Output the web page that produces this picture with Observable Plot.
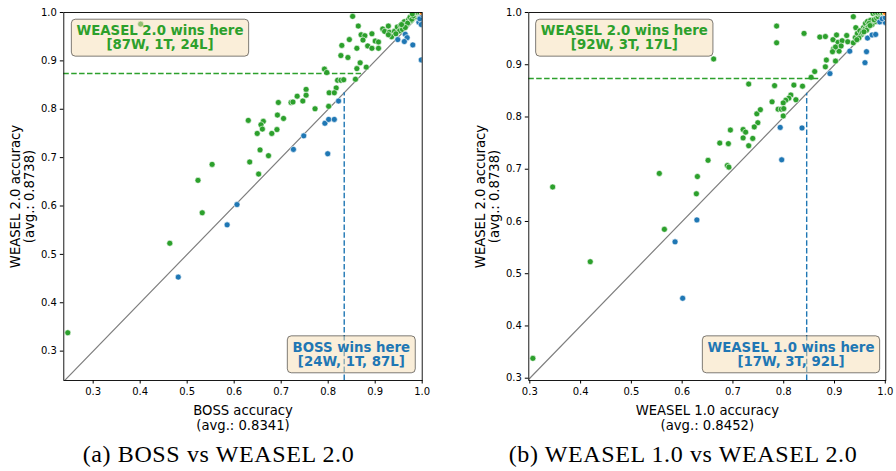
<!DOCTYPE html>
<html>
<head>
<meta charset="utf-8">
<script src="https://cdn.jsdelivr.net/npm/d3@7"></script>
<script src="https://cdn.jsdelivr.net/npm/@observablehq/plot@0.6"></script>
<style>
  body { margin: 0; background: #fff; width: 896px; height: 471px; overflow: hidden; }
  #row { display: flex; }
  .panel { width: 448px; }
  .caption {
    font-family: "Liberation Serif", serif; font-size: 24px; letter-spacing: 0.62px;
    text-align: center; height: 41px; line-height: 49px; white-space: nowrap; position: relative;
  }
</style>
</head>
<body>
<div id="row">
  <div class="panel" id="panel-a"></div>
  <div class="panel" id="panel-b"></div>
</div>
<script>
// Per-dataset accuracies: [BOSS, WEASEL 2.0]
const bossVsWeasel2 = [
  [0.852,0.992],[0.401,0.976],[0.864,0.972],[0.916,0.966],[0.928,0.972],[0.845,0.944],[0.870,0.954],[0.878,0.952],[0.893,0.956],[0.874,0.943],
  [0.900,0.941],[0.907,0.939],[0.829,0.932],[0.861,0.926],[0.884,0.931],[0.893,0.926],[0.907,0.926],[0.827,0.911],[0.842,0.907],[0.868,0.896],
  [0.861,0.884],[0.881,0.887],[0.792,0.883],[0.797,0.876],[0.820,0.860],[0.827,0.860],[0.833,0.861],[0.858,0.862],[0.817,0.844],[0.802,0.834],
  [0.813,0.834],[0.801,0.806],[0.753,0.841],[0.753,0.829],[0.734,0.827],[0.746,0.817],[0.721,0.814],[0.725,0.815],[0.694,0.814],[0.692,0.788],
  [0.705,0.781],[0.772,0.801],[0.630,0.777],[0.662,0.775],[0.657,0.768],[0.660,0.759],[0.649,0.750],[0.680,0.750],[0.691,0.758],[0.655,0.716],
  [0.633,0.691],[0.673,0.704],[0.652,0.666],[0.553,0.686],[0.523,0.653],[0.532,0.586],[0.463,0.523],[0.246,0.338],
  [0.920,0.961],[0.930,0.959],[0.941,0.961],[0.935,0.950],[0.947,0.970],[0.954,0.973],[0.962,0.981],[0.966,0.974],[0.971,0.985],[0.976,0.983],
  [0.987,0.991],[0.984,0.995],[0.990,0.997],[0.993,0.998],[0.952,0.962],[0.928,0.954],[0.958,0.965],[0.969,0.978],[0.974,0.990],[0.978,0.986],
  [0.981,0.993],[0.985,1.000],[0.988,1.000],[0.991,1.000],[0.995,1.000],[0.979,0.997],[0.964,0.969],[0.944,0.956],[0.956,0.975],
  [0.948,0.944],[0.964,0.955],[0.968,0.948],[0.962,0.940],[0.980,0.933],[0.998,0.902],[0.993,0.980],[0.998,0.986],[0.822,0.817],[0.793,0.771],
  [0.801,0.779],[0.813,0.779],[0.799,0.708],[0.748,0.745],[0.726,0.717],[0.606,0.603],[0.585,0.561],[0.481,0.453],[1.000,0.984],[1.000,0.992],
  [0.997,0.990],[0.995,0.987],[1.000,0.996],[0.998,0.975],
  [1.000,1.000]
];

// Per-dataset accuracies: [WEASEL 1.0, WEASEL 2.0]
const weasel1VsWeasel2 = [
  [0.786,0.974],[0.786,0.942],[0.662,0.911],[0.840,0.960],[0.871,0.953],[0.882,0.954],[0.897,0.948],[0.904,0.957],[0.907,0.943],[0.898,0.930],
  [0.909,0.926],[0.902,0.934],[0.915,0.946],[0.924,0.956],[0.926,0.944],[0.937,0.942],[0.941,0.952],[0.937,0.992],[0.942,0.971],[0.957,0.971],
  [0.961,0.979],[0.965,0.983],[0.960,0.968],[0.966,0.972],[0.971,0.985],[0.974,0.977],[0.981,0.983],[0.976,0.998],[0.984,0.995],[0.991,0.993],
  [0.884,0.909],[0.902,0.907],[0.882,0.896],[0.861,0.887],[0.854,0.876],[0.731,0.863],[0.782,0.860],[0.820,0.861],[0.837,0.859],[0.814,0.842],
  [0.810,0.836],[0.824,0.833],[0.804,0.832],[0.799,0.827],[0.777,0.829],[0.789,0.815],[0.795,0.815],[0.800,0.816],[0.799,0.802],[0.747,0.806],
  [0.754,0.814],[0.749,0.789],[0.742,0.781],[0.739,0.759],[0.731,0.745],[0.720,0.776],[0.725,0.771],[0.720,0.760],[0.695,0.775],[0.674,0.750],
  [0.691,0.749],[0.651,0.717],[0.689,0.707],[0.692,0.704],[0.555,0.692],[0.630,0.686],[0.628,0.653],[0.565,0.585],[0.345,0.666],[0.419,0.523],
  [0.306,0.338],[0.896,0.925],[0.913,0.936],
  [0.945,0.960],[0.950,0.965],[0.953,0.958],[0.948,0.951],[0.955,0.962],[0.963,0.966],[0.968,0.979],[0.970,0.975],[0.978,0.986],[0.983,0.989],
  [0.986,0.992],[0.988,0.997],[0.980,1.000],[0.985,1.000],[0.990,1.000],[0.994,1.000],[0.996,0.999],[0.958,0.963],[0.944,0.948],
  [0.930,0.926],[0.891,0.883],[0.963,0.925],[0.960,0.904],[0.965,0.951],[0.974,0.957],[0.981,0.958],[0.989,0.982],[1.000,0.981],[0.836,0.779],
  [0.793,0.780],[0.796,0.718],[0.629,0.603],[0.586,0.561],[0.601,0.453],[0.994,0.988],[1.000,0.990],
  [1.000,1.000],[1.000,1.000],[1.000,1.000]
];

// Mean accuracies over all datasets
const avgBoss = 0.8341;
const avgWeasel1 = 0.8452;
const avgWeasel2 = 0.8738;

// Axis ticks and limits
const tickValues = [0.3, 0.4, 0.5, 0.6, 0.7, 0.8, 0.9, 1.0];
const xLimitsA = [0.2375, 1.0];
const yLimitsA = [0.2393, 1.0];
const xLimitsB = [0.298, 1.001];
const yLimitsB = [0.2956, 1.0];

// Win / tie / loss of the y-axis method against the x-axis method
const outcomes = ["win", "tie", "loss"];
const outcomeColors = ["#2ca02c", "#ff7f0e", "#1f77b4"];

// Box texts and captions
const winsTextA = ["WEASEL 2.0 wins here\n[87W, 1T, 24L]", "BOSS wins here\n[24W, 1T, 87L]"];
const winsTextB = ["WEASEL 2.0 wins here\n[92W, 3T, 17L]", "WEASEL 1.0 wins here\n[17W, 3T, 92L]"];
const captions = ["(a) BOSS vs WEASEL 2.0", "(b) WEASEL 1.0 vs WEASEL 2.0"];

const green = outcomeColors[0], blue = outcomeColors[2];
const outcome = ([x, y]) => (y > x ? "win" : y < x ? "loss" : "tie");
const dash = "5.5,2.4";

function scatterPanel({pairs, xName, yName, xAvg, yAvg, xDomain, yDomain, marginLeft, marginRight, texts, topDx, bottomDx}) {
  const lo = Math.max(xDomain[0], yDomain[0]);
  const axis = {ticks: tickValues, tickFormat: ".1f", tickSize: 3.5, tickPadding: 3.5, label: null};
  return Plot.plot({
    width: 448, height: 430,
    marginTop: 12, marginBottom: 50, marginLeft, marginRight,
    style: {fontFamily: "DejaVu Sans", fontSize: "10px", color: "black", background: "white", overflow: "visible"},
    x: {domain: xDomain, ...axis},
    y: {domain: yDomain, ...axis},
    color: {domain: outcomes, range: outcomeColors},
    marks: [
      Plot.line([lo, 1], {x: d => d, y: d => d, stroke: "#808080", strokeWidth: 1.2, clip: true}),
      Plot.dot(pairs, {x: d => d[0], y: d => d[1], fill: outcome, r: 3, stroke: "white", strokeWidth: 0.6, clip: true}),
      Plot.ruleY([yAvg], {y: d => d, x1: () => xDomain[0], x2: d => d, stroke: green, strokeWidth: 1.4, strokeDasharray: dash}),
      Plot.ruleX([xAvg], {x: d => d, y1: () => yDomain[0], y2: d => d, stroke: blue, strokeWidth: 1.4, strokeDasharray: dash}),
      Plot.frame({stroke: "black", strokeWidth: 0.9}),
      Plot.text([texts[0]], {text: d => d, frameAnchor: "top-left", dx: topDx, dy: 12.3, lineAnchor: "top", textAnchor: "middle",
        fill: green, fontWeight: "bold", fontSize: 13.3, lineHeight: 1.08}),
      Plot.text([texts[1]], {text: d => d, frameAnchor: "bottom-right", dx: bottomDx, dy: -14.5, lineAnchor: "bottom", textAnchor: "middle",
        fill: blue, fontWeight: "bold", fontSize: 13.3, lineHeight: 1.08}),
      Plot.text([`${xName} accuracy\n(avg.: ${xAvg.toFixed(4)})`], {text: d => d, frameAnchor: "bottom", dy: 23.4,
        lineAnchor: "top", textAnchor: "middle", fontSize: 13.2, lineHeight: 1.14}),
      Plot.text([`${yName} accuracy\n(avg.: ${yAvg.toFixed(4)})`], {text: d => d, frameAnchor: "left", dx: -41.3, rotate: -90,
        lineAnchor: "middle", textAnchor: "middle", fontSize: 13.2, lineHeight: 1.08})
    ]
  });
}

// Draw a rounded, half-transparent wheat box behind each "wins here" annotation
function addBoxes(svg) {
  const ns = "http://www.w3.org/2000/svg";
  for (const t of svg.querySelectorAll("text")) {
    if (!t.textContent.includes("wins here")) continue;
    const bb = t.getBBox();
    const r = document.createElementNS(ns, "rect");
    r.setAttribute("x", bb.x - 5.2);
    r.setAttribute("y", bb.y - 3.8);
    r.setAttribute("width", bb.width + 10.4);
    r.setAttribute("height", bb.height + 7.6);
    r.setAttribute("rx", 4);
    r.setAttribute("fill", "wheat");
    r.setAttribute("fill-opacity", 0.5);
    r.setAttribute("stroke", "black");
    r.setAttribute("stroke-opacity", 0.5);
    r.setAttribute("stroke-width", 1);
    const tr = t.getAttribute("transform");
    if (tr) r.setAttribute("transform", tr);
    t.parentNode.insertBefore(r, t);
  }
}

function mount(id, svg, caption, shift) {
  const host = document.getElementById(id);
  host.appendChild(svg);
  addBoxes(svg);
  const cap = document.createElement("div");
  cap.className = "caption";
  cap.style.left = shift + "px";
  cap.textContent = caption;
  host.appendChild(cap);
}

mount("panel-a", scatterPanel({
  pairs: bossVsWeasel2, xName: "BOSS", yName: "WEASEL 2.0", xAvg: avgBoss, yAvg: avgWeasel2,
  xDomain: xLimitsA, yDomain: yLimitsA, marginLeft: 63.3, marginRight: 26.3,
  texts: winsTextA, topDx: 96.2, bottomDx: -70.9
}), captions[0], -5.5);

mount("panel-b", scatterPanel({
  pairs: weasel1VsWeasel2, xName: "WEASEL 1.0", yName: "WEASEL 2.0", xAvg: avgWeasel1, yAvg: avgWeasel2,
  xDomain: xLimitsB, yDomain: yLimitsB, marginLeft: 80.3, marginRight: 10.7,
  texts: winsTextB, topDx: 95.5, bottomDx: -94.8
}), captions[1], 11);
</script>
</body>
</html>
